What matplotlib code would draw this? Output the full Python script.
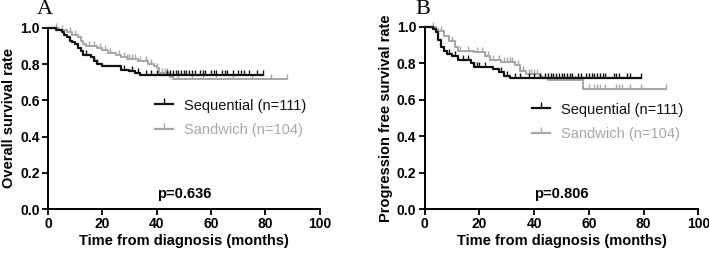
import matplotlib
matplotlib.use('Agg')
import matplotlib.pyplot as plt
from matplotlib.lines import Line2D
import numpy as np

plt.rcParams['font.family'] = ['Liberation Sans', 'DejaVu Sans']

BLACK = '#111111'
GRAY = '#a8a8a8'

# ================= data =================
# panel A - overall survival
os_seq_t = [0, 3, 5, 6, 7, 8, 9, 10, 11, 12, 13, 16, 17, 18, 20, 27, 30, 32, 34]
os_seq_s = [1.0, 0.99, 0.98, 0.96, 0.95, 0.93, 0.92, 0.91, 0.89, 0.87, 0.85,
            0.84, 0.82, 0.80, 0.79, 0.77, 0.76, 0.75, 0.74]
os_seq_end = 79
os_seq_cens = [14, 17, 18, 28, 31, 33, 36, 38, 40, 44, 45, 46, 47, 48, 49, 50,
               51, 52, 53, 54, 56, 57, 58, 60, 61, 62, 64, 65, 66, 68, 70, 71,
               72, 74, 77, 79]

os_sw_t = [0, 4, 7, 9, 11, 12, 13, 14, 18, 20, 22, 25, 27, 29, 33, 37, 39,
           40, 41, 45, 46]
os_sw_s = [1.0, 0.99, 0.98, 0.96, 0.95, 0.93, 0.91, 0.90, 0.89, 0.88, 0.86,
           0.85, 0.84, 0.83, 0.82, 0.80, 0.79, 0.78, 0.75, 0.73, 0.72]
os_sw_end = 88
os_sw_cens = [3, 5, 8, 10, 15, 17, 19, 21, 23, 26, 28, 29, 30, 31, 32, 34, 36,
              38, 40, 42, 43, 44, 48, 53, 57, 62, 68, 75, 82, 88]

# panel B - progression free survival
pfs_seq_t = [0, 3, 4, 5, 6, 7, 8, 10, 12, 17, 18, 25, 27, 29, 31]
pfs_seq_s = [1.0, 0.99, 0.97, 0.93, 0.89, 0.87, 0.85, 0.84, 0.82, 0.80, 0.78,
             0.77, 0.75, 0.73, 0.72]
pfs_seq_end = 79
pfs_seq_cens = [9, 11, 14, 16, 18, 19, 20, 22, 28, 30, 33, 35, 38, 40, 42, 44,
                45, 46, 47, 48, 49, 50, 51, 52, 53, 54, 56, 57, 59, 60, 61, 62,
                63, 64, 65, 66, 69, 70, 71, 74, 75, 79]

pfs_sw_t = [0, 4, 5, 7, 9, 11, 12, 18, 22, 24, 28, 33, 35, 37, 42, 43, 45, 58]
pfs_sw_s = [1.0, 0.99, 0.98, 0.95, 0.92, 0.89, 0.87, 0.86, 0.84, 0.82, 0.81,
            0.79, 0.76, 0.74, 0.73, 0.72, 0.71, 0.66]
pfs_sw_end = 88
pfs_sw_cens = [3, 6, 10, 13, 16, 19, 21, 23, 25, 27, 29, 30, 31, 32, 34, 36,
               38, 39, 40, 41, 44, 46, 47, 48, 50, 52, 53, 55, 57, 60, 62, 63,
               64, 66, 70, 71, 72, 75, 79, 88]

labels = ['Sequential (n=111)', 'Sandwich (n=104)']


def km_curve(ax, t, s, end, cens, color, lw):
    tt = list(t) + [end]
    ss = list(s) + [s[-1]]
    ax.step(tt, ss, where='post', color=color, lw=lw, clip_on=False, zorder=3)
    idx = np.searchsorted(np.array(t), np.array(cens), side='right') - 1
    cy = np.array(s)[idx]
    ax.plot(cens, cy, ls='none', marker=2, ms=3.5, mew=1.0, color=color,
            clip_on=False, zorder=3)


def style_axes(ax, ylabel, pval, leg_anchor):
    ax.set_xlim(0, 100)
    ax.set_ylim(0, 1.0)
    ax.set_xticks(np.arange(0, 101, 20))
    ax.set_yticks(np.arange(0, 1.01, 0.2))
    ax.set_yticklabels([f'{v:.1f}' for v in np.arange(0, 1.01, 0.2)])
    for side in ['top', 'right']:
        ax.spines[side].set_visible(False)
    for side in ['left', 'bottom']:
        ax.spines[side].set_linewidth(1.4)
    ax.tick_params(direction='out', length=4, width=1.3, pad=2, labelsize=10)
    for lab in ax.get_xticklabels() + ax.get_yticklabels():
        lab.set_fontweight('bold')
    ax.set_xlabel('Time from diagnosis (months)', fontsize=10.5,
                  fontweight='bold', labelpad=2)
    ax.set_ylabel(ylabel, fontsize=10.5, fontweight='bold', labelpad=3)
    ax.text(50, 0.045, pval, ha='center', va='bottom', fontsize=10.5,
            fontweight='bold')
    handles = [Line2D([], [], color=BLACK, lw=1.6, marker=2, ms=4),
               Line2D([], [], color=GRAY, lw=1.6, marker=2, ms=4)]
    leg = ax.legend(handles, labels, loc='upper left', bbox_to_anchor=leg_anchor,
                    frameon=False, fontsize=10.5, handlelength=1.25,
                    handletextpad=0.75, labelspacing=0.7, borderpad=0,
                    borderaxespad=0, numpoints=1)
    leg.get_texts()[0].set_color(BLACK)
    leg.get_texts()[1].set_color(GRAY)


fig = plt.figure(figsize=(7.09, 2.54), dpi=100)
axA = fig.add_axes([0.0677, 0.177, 0.383, 0.713])
axB = fig.add_axes([0.599, 0.177, 0.386, 0.717])

km_curve(axA, os_sw_t, os_sw_s, os_sw_end, os_sw_cens, GRAY, 1.5)
km_curve(axA, os_seq_t, os_seq_s, os_seq_end, os_seq_cens, BLACK, 1.6)
style_axes(axA, 'Overall survival rate', 'p=0.636', (0.395, 0.61))

km_curve(axB, pfs_sw_t, pfs_sw_s, pfs_sw_end, pfs_sw_cens, GRAY, 1.5)
km_curve(axB, pfs_seq_t, pfs_seq_s, pfs_seq_end, pfs_seq_cens, BLACK, 1.6)
style_axes(axB, 'Progression free survival rate', 'p=0.806', (0.392, 0.585))

fig.text(0.063, 0.962, 'A', family='Liberation Serif', fontsize=16,
         ha='center', va='center')
fig.text(0.597, 0.962, 'B', family='Liberation Serif', fontsize=16,
         ha='center', va='center')

fig.savefig('out.png', dpi=100)
